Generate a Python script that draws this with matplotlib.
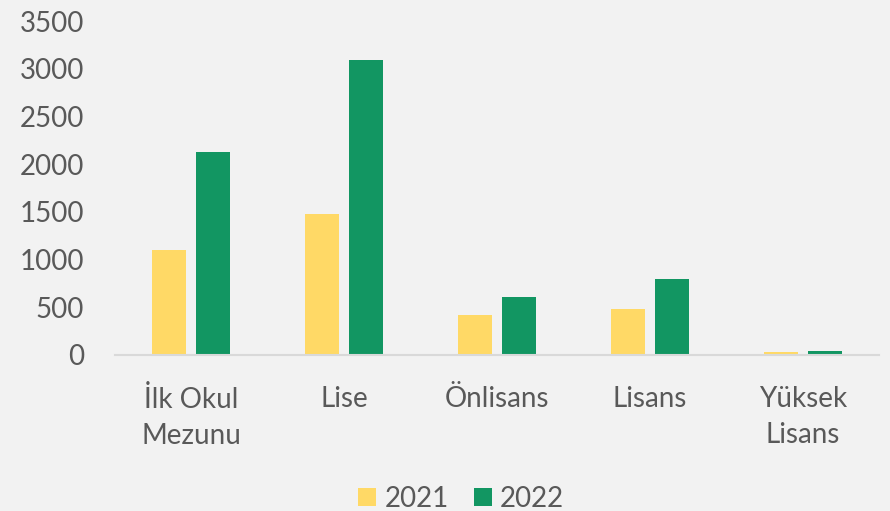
import numpy as np
import matplotlib.pyplot as plt

categories = ["İlk Okul\nMezunu", "Lise", "Önlisans", "Lisans", "Yüksek\nLisans"]
years = ["2021", "2022"]
values_2021 = [1100, 1480, 415, 480, 35]
values_2022 = [2125, 3090, 612, 800, 45]
colors = ["#FFD966", "#129662"]

bg = "#F2F2F2"
text_color = "#595959"
plt.rcParams['font.family'] = ['Lato', 'DejaVu Sans']

fig = plt.figure(figsize=(8.9, 5.11), dpi=100, facecolor=bg)
ax = fig.add_axes([0.1287, 0.3053, 0.8595, 0.6536], facecolor=bg)

x = np.arange(len(categories))
w = 0.222
ax.bar(x - 0.144, values_2021, w, color=colors[0], label=years[0], zorder=2)
ax.bar(x + 0.144, values_2022, w, color=colors[1], label=years[1], zorder=2)

ax.set_xlim(-0.5, len(categories) - 0.5)
ax.set_ylim(0, 3500)
ax.set_yticks(range(0, 3501, 500))
ax.set_xticks(x)
ax.set_xticklabels(categories, linespacing=1.5)

for s in ["top", "right", "left"]:
    ax.spines[s].set_visible(False)
ax.spines["bottom"].set_color("#D9D9D9")
ax.spines["bottom"].set_linewidth(1.5)
ax.spines["bottom"].set_zorder(3)

ax.tick_params(axis="both", length=0, labelsize=20, colors=text_color)
ax.tick_params(axis="y", pad=22)
ax.tick_params(axis="x", pad=22)

fig.legend(loc="lower center", bbox_to_anchor=(0.518, -0.05), ncol=2, frameon=False,
           fontsize=20, labelcolor=text_color, handlelength=0.65, handleheight=0.65,
           handletextpad=0.3, columnspacing=0.9)

fig.savefig("out.png", dpi=100, facecolor=bg)
